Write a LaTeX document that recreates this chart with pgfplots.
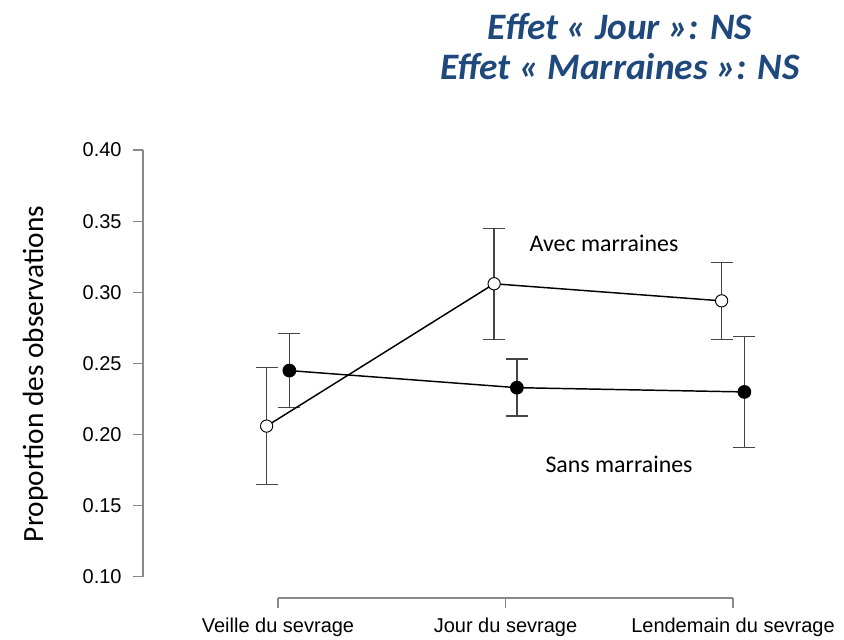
\documentclass[border=0pt]{standalone}
\usepackage{pgfplots}
\pgfplotsset{compat=1.18}
\usepackage{fontspec}
\setmainfont{Carlito}
\newfontfamily\arial{Liberation Sans}
\definecolor{titleblue}{HTML}{1F497D}
\definecolor{axgray}{HTML}{888888}
\definecolor{ebgray}{HTML}{444444}
\begin{document}
\begin{tikzpicture}
\begin{axis}[
  scale only axis,
  width=492.75pt, height=336pt,
  xmin=-0.5934, xmax=2.2945,
  ymin=0.0852, ymax=0.40,
  axis lines*=left,
  axis line style={draw=none},
  tick align=outside,
  major tick length=7.5pt,
  tick style={axgray, line width=0.8pt},
  xtick={0,1,2},
  xticklabels={Veille du sevrage, Jour du sevrage, Lendemain du sevrage},
  ytick={0.10,0.15,0.20,0.25,0.30,0.35,0.40},
  yticklabel style={/pgf/number format/fixed, /pgf/number format/precision=2, /pgf/number format/fixed zerofill},
  /pgf/number format/assume math mode=true,
  ticklabel style={font=\arial\fontsize{15}{18}\selectfont},
  xticklabel style={yshift=-4pt},
  yticklabel style={xshift=-5pt},
  ylabel={Proportion des observations},
  ylabel style={at={(axis description cs:-0.164,0.5)}, anchor=center, font=\fontsize{22}{26}\selectfont},
  clip=false,
]
\draw[axgray, line width=0.8pt] (axis cs:-0.5934,0.10) -- (axis cs:-0.5934,0.40);
\draw[axgray, line width=0.8pt] (axis cs:0,0.0852) -- (axis cs:2,0.0852);
% Sans marraines (filled)
\addplot[black, line width=1.1pt, mark=*, mark size=4.6pt, mark options={fill=black, draw=black},
  error bars/.cd, y dir=both, y explicit,
  error bar style={ebgray, line width=1.1pt},
  error mark options={rotate=90, mark size=8.25pt, ebgray, line width=1.1pt}]
  coordinates {
  (0.05,0.245) +- (0,0.026)
  (1.05,0.233) +- (0,0.020)
  (2.05,0.230) +- (0,0.039)
  };
% Avec marraines (open)
\addplot[black, line width=1.1pt, mark=*, mark size=4.6pt, mark options={fill=white, draw=black, line width=0.7pt},
  error bars/.cd, y dir=both, y explicit,
  error bar style={ebgray, line width=1.1pt},
  error mark options={rotate=90, mark size=8.25pt, ebgray, line width=1.1pt}]
  coordinates {
  (-0.05,0.206) +- (0,0.041)
  (0.95,0.306) +- (0,0.039)
  (1.95,0.294) +- (0,0.027)
  };
\node[font=\fontsize{17.9}{21}\selectfont] at (axis cs:1.433,0.3347) {Avec marraines};
\node[font=\fontsize{17.9}{21}\selectfont] at (axis cs:1.499,0.1794) {Sans marraines};
\node[align=center, text=titleblue, font=\fontsize{28}{30}\selectfont\bfseries\itshape] at (axis description cs:0.726,1.2299) {Effet « Jour »: NS\\Effet « Marraines »: NS};
\end{axis}
\pgfresetboundingbox
\path[use as bounding box] (-107.25pt,-31.5pt) rectangle (525.75pt,448.5pt);
\end{tikzpicture}
\end{document}
